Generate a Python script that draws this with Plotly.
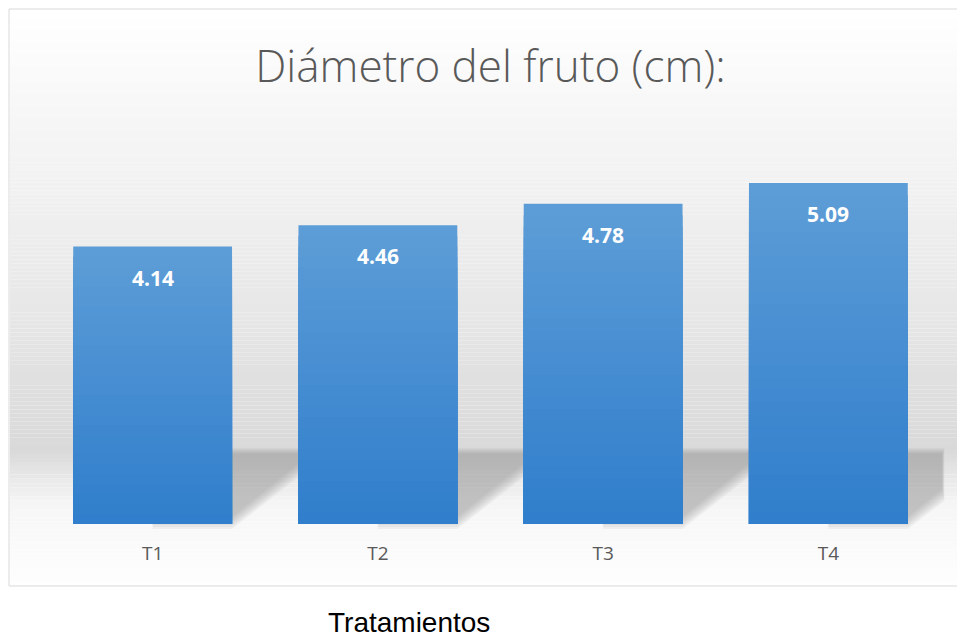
import plotly.graph_objects as go

# ---- data ----
categories = ["T1", "T2", "T3", "T4"]
values = [4.14, 4.46, 4.78, 5.09]
title_text = "Diámetro del fruto (cm):"
xaxis_label = "Tratamientos"

# ---- geometry (target pixel coords; page body adds an 8px offset) ----
O = 8
W, H = 965 - O, 637 - O
PLOT_L, PLOT_R, PLOT_T, PLOT_B = 40, 941, 122, 524   # in target pixels
L, T = PLOT_L - O, PLOT_T - O
R, B = W - (PLOT_R - O), H - (PLOT_B - O)
PW, PH = PLOT_R - PLOT_L, PLOT_B - PLOT_T
BARGAP = 0.295


def px(x):
    return (x - PLOT_L) / PW


def py(y):
    return (PLOT_B - y) / PH


def mix(c1, c2, t):
    return "rgb(%d,%d,%d)" % tuple(round(a + (b - a) * t) for a, b in zip(c1, c2))


fig = go.Figure()

# gradient bars: overlaid layers, light at top, darker towards bottom
N = 28
top_c, bot_c = (93, 157, 215), (48, 126, 204)
for k in range(N):
    frac = (N - k) / N
    fig.add_trace(go.Bar(
        x=categories,
        y=[v * frac for v in values],
        marker=dict(color=mix(top_c, bot_c, k / (N - 1)), line=dict(width=0)),
        hoverinfo="skip",
        showlegend=False,
    ))

shapes = []
# background vertical gradient inside the chart box
stops = [(10, (255, 255, 255)), (150, (244, 244, 244)), (300, (232, 232, 232)),
         (450, (217, 217, 217)), (470, (228, 228, 228)), (505, (246, 246, 246)),
         (586, (254, 254, 254))]
for (y0, c0), (y1, c1) in zip(stops[:-1], stops[1:]):
    n = max(2, int((y1 - y0) / 4))
    for j in range(n):
        ya = y0 + (y1 - y0) * j / n
        yb = y0 + (y1 - y0) * (j + 1) / n
        shapes.append(dict(type="rect", xref="paper", yref="paper",
                           x0=px(10), x1=px(962), y0=py(yb), y1=py(ya),
                           fillcolor=mix(c0, c1, (j + 0.5) / n), line=dict(width=0),
                           layer="below"))

# soft perspective shadows to the right of each bar
slot = PW / len(categories)
half_w = slot * (1 - BARGAP) / 2
for i in range(len(categories)):
    xc = PLOT_L + slot * (i + 0.5)
    xr = xc + half_w
    ext = slot * BARGAP if i < len(categories) - 1 else 35
    for grow in (8, 6, 4, 2, 0, -2, -4):
        ytop = 452 - grow * 0.5
        x2 = xr + ext
        ybot_r = 521 - ext * 0.8 + grow
        path = "M %f,%f L %f,%f L %f,%f L %f,%f L %f,%f Z" % (
            px(xc), py(ytop), px(x2 + grow * 0.2), py(ytop), px(x2 + grow * 0.2), py(ybot_r),
            px(xr), py(521 + grow), px(xc), py(521 + grow))
        shapes.append(dict(type="path", xref="paper", yref="paper", path=path,
                           fillcolor="rgba(140,140,140,0.085)", line=dict(width=0),
                           layer="below"))

# chart box border
shapes.append(dict(type="rect", xref="paper", yref="paper",
                   x0=px(9), x1=px(962), y0=py(586), y1=py(9),
                   line=dict(color="#d9d9d9", width=1), fillcolor="rgba(0,0,0,0)",
                   layer="below"))

annotations = []
for c, v in zip(categories, values):
    annotations.append(dict(x=c, y=v, xref="x", yref="y", text="<b>%.2f</b>" % v,
                            showarrow=False, yanchor="middle", yshift=-31,
                            font=dict(family="Open Sans", size=21, color="white")))
annotations.append(dict(x=px(409), y=py(622), xref="paper", yref="paper",
                        text=xaxis_label, showarrow=False, xanchor="center", yanchor="middle",
                        font=dict(family="Liberation Sans, Arial", size=28, color="black")))

fig.update_layout(
    width=W, height=H,
    margin=dict(l=L, r=R, t=T, b=B),
    paper_bgcolor="white", plot_bgcolor="rgba(0,0,0,0)",
    barmode="overlay", bargap=BARGAP,
    title=dict(text=title_text, x=0.5, xref="paper", y=1 - (67 - O) / H, yref="container",
               xanchor="center", yanchor="middle",
               font=dict(family="Open Sans", size=44, color="#595959", weight=300)),
    xaxis=dict(showgrid=False, showline=False, zeroline=False, ticks="",
               ticklabelstandoff=16,
               tickfont=dict(family="Open Sans", size=19, color="#595959")),
    yaxis=dict(visible=False, range=[0, 6], showgrid=False, zeroline=False),
    shapes=shapes, annotations=annotations,
    showlegend=False,
)

fig.write_html("out.html")
